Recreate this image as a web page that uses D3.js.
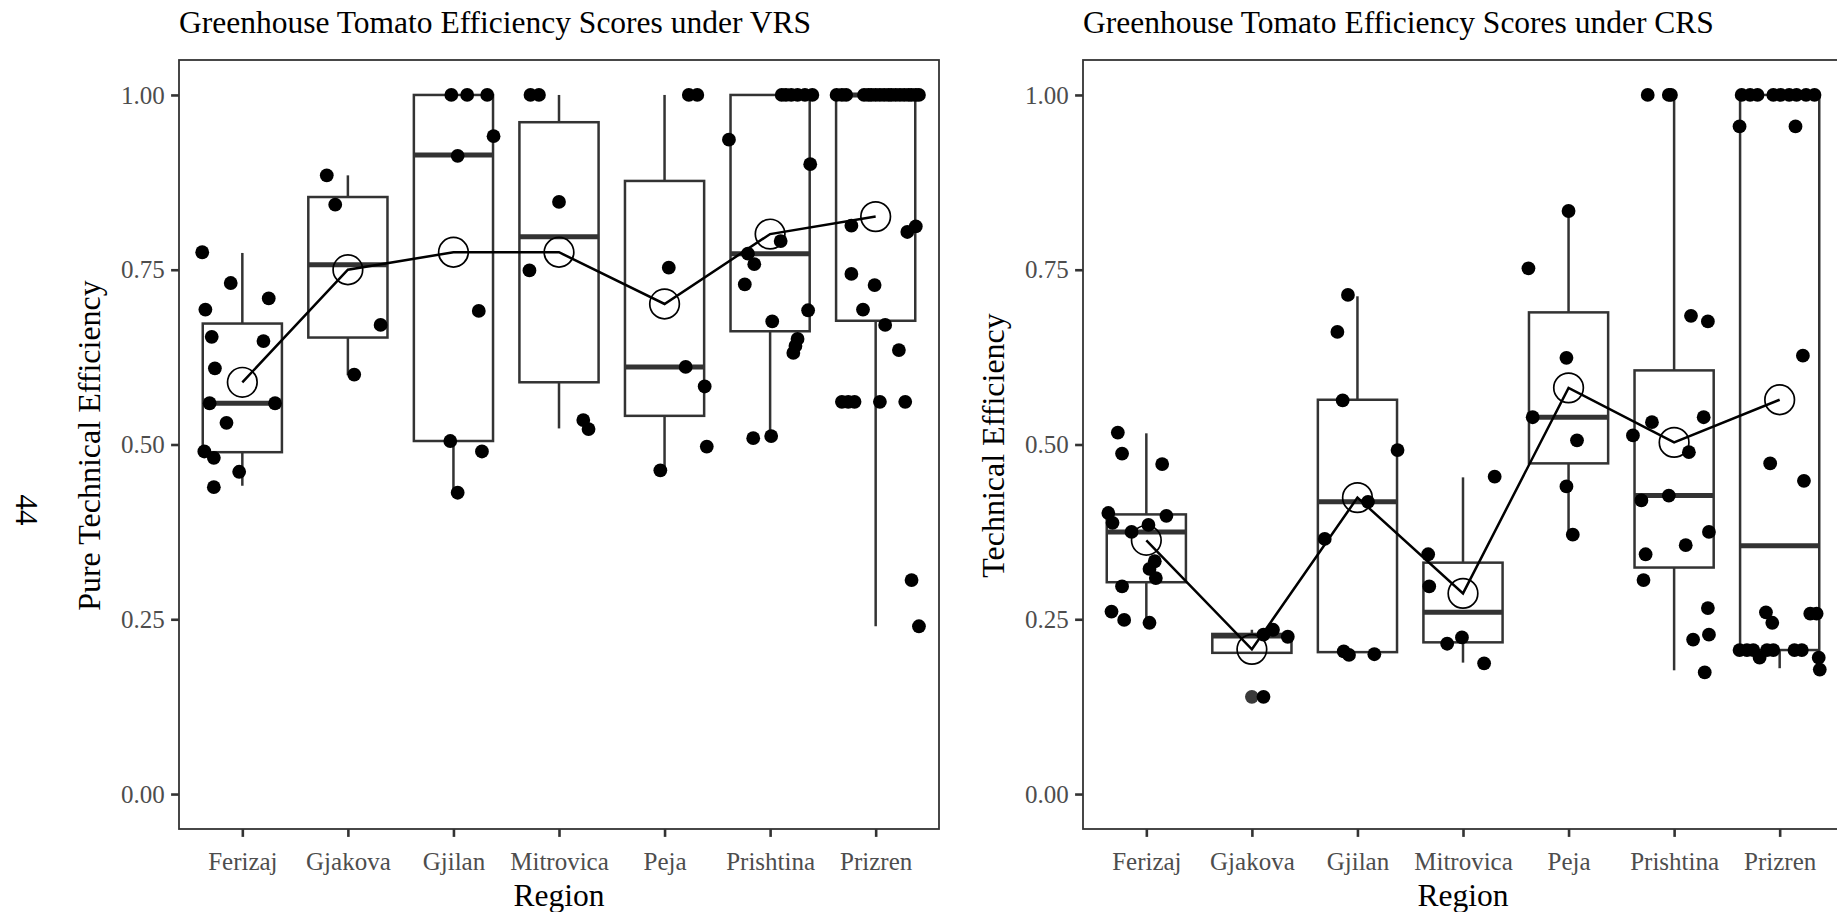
<!DOCTYPE html>
<html><head><meta charset="utf-8">
<script src="https://cdn.jsdelivr.net/npm/d3@7"></script>
<style>
body{margin:0;background:#fff;}
svg{display:block;}
text{font-family:"Liberation Serif","Times New Roman",serif;}
</style>
</head><body>
<svg id="chart" width="1837" height="912"></svg>
<script>
// ---------- DATA ----------
const regions = ["Ferizaj","Gjakova","Gjilan","Mitrovica","Peja","Prishtina","Prizren"];
const yTicks = [0, 0.25, 0.5, 0.75, 1];
const yTickLabels = ["0.00","0.25","0.50","0.75","1.00"];

// VRS (pure technical efficiency) box statistics
const vrsLo  = [0.441, 0.599, 0.431, 0.523, 0.465, 0.512, 0.240];
const vrsQ1  = [0.489, 0.653, 0.505, 0.589, 0.541, 0.662, 0.677];
const vrsMed = [0.559, 0.757, 0.914, 0.797, 0.611, 0.773, 1.000];
const vrsQ3  = [0.673, 0.854, 1.000, 0.961, 0.877, 1.000, 1.000];
const vrsHi  = [0.774, 0.885, 1.000, 1.000, 1.000, 1.000, 1.000];
const vrsMean = [0.589, 0.750, 0.775, 0.775, 0.701, 0.801, 0.826];
const vrsOutliers = [[],[],[],[],[],[],[]];

// VRS farm scores per region, and horizontal jitter (in category units)
const vrsValues = [
  [0.775,0.731,0.709,0.693,0.654,0.648,0.609,0.559,0.559,0.531,0.490,0.481,0.461,0.439],
  [0.885,0.843,0.671,0.600],
  [1,1,1,0.941,0.913,0.691,0.505,0.490,0.431],
  [1,1,0.847,0.749,0.535,0.522],
  [1,1,0.753,0.611,0.583,0.497,0.463],
  [1,1,1,1,1,1,0.936,0.901,0.791,0.773,0.758,0.729,0.692,0.676,0.651,0.641,0.631,0.509,0.512],
  [1,1,1,1,1,1,1,1,1,1,1,1,1,1,1,1,1,1,
   0.813,0.804,0.812,0.744,0.728,0.693,0.671,0.635,0.561,0.561,0.561,0.561,0.561,0.306,0.240]
];
const vrsJitter = [
  [-0.38,-0.11,0.25,-0.35,-0.29,0.20,-0.26,-0.31,0.31,-0.15,-0.36,-0.27,-0.03,-0.27],
  [-0.20,-0.12,0.31,0.06],
  [-0.02,0.13,0.32,0.38,0.04,0.24,-0.03,0.27,0.04],
  [-0.27,-0.19,0.0,-0.28,0.23,0.28],
  [0.23,0.31,0.04,0.20,0.38,0.40,-0.04],
  [0.11,0.15,0.20,0.26,0.33,0.40,-0.39,0.38,0.10,-0.21,-0.15,-0.24,0.36,0.02,0.26,0.24,0.22,-0.16,0.01],
  [-0.37,-0.32,-0.28,-0.11,-0.07,-0.04,0.0,0.04,0.08,0.12,0.15,0.19,0.23,0.27,0.31,0.34,0.38,0.41,
   -0.23,0.30,0.38,-0.23,-0.01,-0.12,0.09,0.22,-0.32,-0.26,-0.20,0.04,0.28,0.34,0.41]
];

// CRS (technical efficiency) box statistics
const crsLo  = [0.245, 0.202, 0.203, 0.188, 0.371, 0.177, 0.180];
const crsQ1  = [0.303, 0.202, 0.203, 0.217, 0.473, 0.324, 0.206];
const crsMed = [0.375, 0.226, 0.418, 0.260, 0.539, 0.427, 0.355];
const crsQ3  = [0.400, 0.229, 0.564, 0.331, 0.689, 0.606, 1.000];
const crsHi  = [0.516, 0.235, 0.712, 0.453, 0.834, 1.000, 1.000];
const crsMean = [0.363, 0.207, 0.424, 0.287, 0.581, 0.503, 0.564];
const crsOutliers = [[],[0.139],[],[],[],[],[]];

const crsValues = [
  [0.517,0.487,0.472,0.402,0.398,0.388,0.385,0.375,0.333,0.322,0.309,0.297,0.261,0.249,0.245],
  [0.228,0.235,0.225,0.139],
  [0.714,0.661,0.563,0.492,0.418,0.365,0.204,0.199,0.200],
  [0.454,0.343,0.297,0.224,0.215,0.187],
  [0.834,0.752,0.624,0.539,0.506,0.440,0.371],
  [1,1,1,0.684,0.676,0.539,0.532,0.513,0.489,0.427,0.420,0.375,0.356,0.343,0.306,0.266,0.228,0.221,0.174],
  [1,1,1,1,1,1,1,1,1,
   0.955,0.955,0.627,0.473,0.448,0.260,0.245,0.258,0.258,0.206,0.206,0.206,0.206,0.206,0.206,0.206,0.195,0.195,0.178]
];
const crsJitter = [
  [-0.27,-0.23,0.15,-0.36,0.19,-0.32,0.02,-0.14,0.08,0.03,0.09,-0.23,-0.33,-0.21,0.03],
  [0.11,0.20,0.34,0.11],
  [-0.09,-0.19,-0.14,0.38,0.10,-0.31,-0.13,-0.08,0.16],
  [0.30,-0.33,-0.32,-0.01,-0.15,0.20],
  [0.0,-0.38,-0.02,-0.34,0.08,-0.02,0.04],
  [-0.25,-0.05,-0.03,0.16,0.32,0.28,-0.21,-0.39,0.14,-0.05,-0.31,0.33,0.11,-0.27,-0.29,0.32,0.33,0.18,0.29],
  [-0.36,-0.28,-0.21,-0.06,0.01,0.09,0.16,0.25,0.33,
   -0.38,0.15,0.22,-0.09,0.23,-0.13,-0.07,0.29,0.35,-0.38,-0.31,-0.25,-0.12,-0.06,0.14,0.21,-0.19,0.37,0.38]
];

// ---------- DRAWING ----------
const svg = d3.select("#chart");
const panelW = 760, panelTop = 60, panelBottom = 829;
const FONT = '"Liberation Serif","Times New Roman",serif';

function drawPanel(left, title, yTitle, lo, q1, med, q3, hi, means, outliers, values, jitter) {
  const g = svg.append("g");
  const x = d3.scalePoint().domain(regions).range([left, left + panelW]).padding(0.6);
  const y = d3.scaleLinear().domain([-0.05, 1.05]).range([panelBottom, panelTop]);
  const step = x.step();
  const bw = step * 0.75;

  g.append("rect").attr("x", left).attr("y", panelTop)
    .attr("width", panelW).attr("height", panelBottom - panelTop)
    .attr("fill", "#fff").attr("stroke", "#333").attr("stroke-width", 1.8);

  // axes
  const ya = g.append("g").attr("transform", `translate(${left},0)`)
    .call(d3.axisLeft(y).tickValues(yTicks).tickFormat((d, i) => yTickLabels[i]).tickSize(7.9).tickPadding(6.3));
  const xa = g.append("g").attr("transform", `translate(0,${panelBottom})`)
    .call(d3.axisBottom(x).tickSize(7.9).tickPadding(6.3));
  [ya, xa].forEach(a => {
    a.select(".domain").remove();
    a.selectAll(".tick line").attr("stroke", "#333").attr("stroke-width", 2.6);
    a.selectAll(".tick text").attr("fill", "#4d4d4d").style("font-size", "25px")
      .style("font-family", FONT);
  });
  ya.selectAll(".tick text").attr("dy", "0.33em");
  xa.selectAll(".tick text").attr("dy", "1.08em");

  // boxplots
  const bx = g.append("g");
  regions.forEach((r, i) => {
    const cx = x(r);
    bx.append("line").attr("x1", cx).attr("x2", cx).attr("y1", y(q3[i])).attr("y2", y(hi[i]))
      .attr("stroke", "#333").attr("stroke-width", 2.5);
    bx.append("line").attr("x1", cx).attr("x2", cx).attr("y1", y(q1[i])).attr("y2", y(lo[i]))
      .attr("stroke", "#333").attr("stroke-width", 2.5);
    bx.append("rect").attr("x", cx - bw / 2).attr("y", y(q3[i]))
      .attr("width", bw).attr("height", Math.max(0.5, y(q1[i]) - y(q3[i])))
      .attr("fill", "#fff").attr("stroke", "#333").attr("stroke-width", 2.5);
    bx.append("line").attr("x1", cx - bw / 2).attr("x2", cx + bw / 2)
      .attr("y1", y(med[i])).attr("y2", y(med[i]))
      .attr("stroke", "#333").attr("stroke-width", 5);
    outliers[i].forEach(v => {
      bx.append("circle").attr("cx", cx).attr("cy", y(v)).attr("r", 6.9).attr("fill", "#3a3a3a");
    });
  });

  // jittered points
  const pts = [];
  regions.forEach((r, i) => values[i].forEach((v, j) => pts.push({ r, v, jt: jitter[i][j] })));
  g.append("g").selectAll("circle").data(pts).join("circle")
    .attr("cx", d => x(d.r) + d.jt * step)
    .attr("cy", d => y(d.v))
    .attr("r", 6.9).attr("fill", "#000");

  // mean line and circles
  const md = regions.map((r, i) => ({ r, m: means[i] }));
  g.append("path").datum(md)
    .attr("d", d3.line().x(d => x(d.r)).y(d => y(d.m)))
    .attr("fill", "none").attr("stroke", "#000").attr("stroke-width", 2.5);
  g.append("g").selectAll("circle").data(md).join("circle")
    .attr("cx", d => x(d.r)).attr("cy", d => y(d.m)).attr("r", 14.8)
    .attr("fill", "none").attr("stroke", "#000").attr("stroke-width", 1.7);

  // titles
  g.append("text").attr("x", left).attr("y", 33).attr("fill", "#000")
    .style("font-size", "31.5px").text(title);
  g.append("text").attr("transform", `translate(${left - 79},${(panelTop + panelBottom) / 2 + 1}) rotate(-90)`)
    .attr("text-anchor", "middle").attr("fill", "#000").style("font-size", "32px").text(yTitle);
  g.append("text").attr("x", left + panelW / 2).attr("y", 906).attr("text-anchor", "middle")
    .attr("fill", "#000").style("font-size", "31.5px").text("Region");
}

drawPanel(179, "Greenhouse Tomato Efficiency Scores under VRS", "Pure Technical Efficiency",
  vrsLo, vrsQ1, vrsMed, vrsQ3, vrsHi, vrsMean, vrsOutliers, vrsValues, vrsJitter);
drawPanel(1083, "Greenhouse Tomato Efficiency Scores under CRS", "Technical Efficiency",
  crsLo, crsQ1, crsMed, crsQ3, crsHi, crsMean, crsOutliers, crsValues, crsJitter);

// page number
svg.append("text").attr("transform", "translate(26,510) rotate(90)")
  .attr("text-anchor", "middle").attr("dominant-baseline", "central")
  .attr("fill", "#000").style("font-size", "31px").text("44");
</script>
</body></html>
